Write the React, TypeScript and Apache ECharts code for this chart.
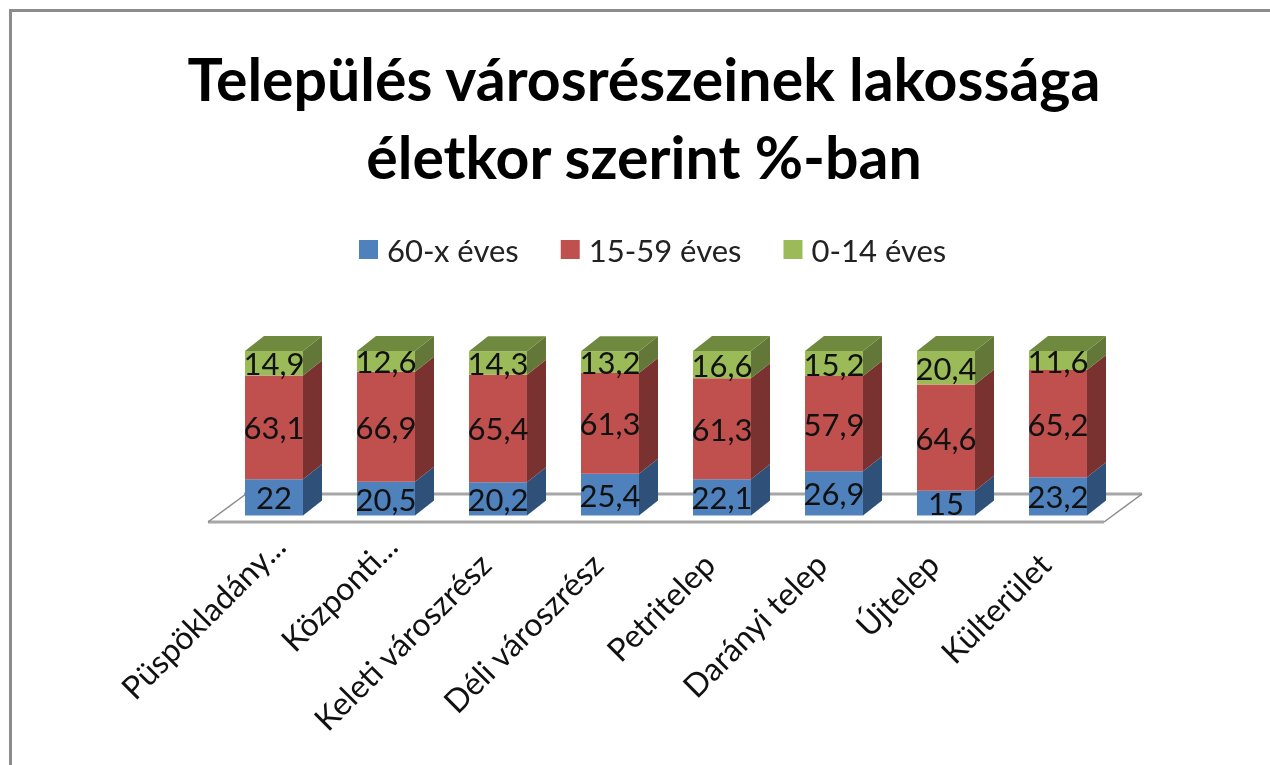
import React, { useEffect, useRef } from "react";
import * as echarts from "echarts";

const categories = ["Püspökladány...", "Központi...", "Keleti városzrész", "Déli városzrész", "Petritelep", "Darányi telep", "Újtelep", "Külterület"];
const labelPadsRight = [-7, -7, 19, 19, 19, 19, 19, 19];
const labelPadsTop = [5, 5, 0, 0, 0, 0, 0, 0];
const older = [22, 20.5, 20.2, 25.4, 22.1, 26.9, 15, 23.2];
const adult = [63.1, 66.9, 65.4, 61.3, 61.3, 57.9, 64.6, 65.2];
const young = [14.9, 12.6, 14.3, 13.2, 16.6, 15.2, 20.4, 11.6];
const seriesNames = ["60-x éves", "15-59 éves", "0-14 éves"];
const FONT = "Lato, Carlito, sans-serif";
const DX = 19;
const DY = 15;

const palette = [
  { front: "#4f81bd", side: "#2f5078", top: "#3f6797" },
  { front: "#c0504d", side: "#7a3230", top: "#99403e" },
  { front: "#9bbb59", side: "#627738", top: "#6f8a3e" },
];

const fmt = (v: number) => String(v).replace(".", ",");

function barRender(colorIdx: number, showTop: boolean) {
  return (_: any, api: any) => {
    const i = api.value(0);
    const base = api.coord([i, api.value(1)]);
    const end = api.coord([i, api.value(2)]);
    const w = api.size([1, 0])[0] * 0.518;
    const x0 = base[0] - w / 2;
    const x1 = base[0] + w / 2;
    const c = palette[colorIdx];
    const children: any[] = [
      { type: "rect", shape: { x: x0, y: end[1], width: w, height: base[1] - end[1] }, style: { fill: c.front } },
      { type: "polygon", shape: { points: [[x1, base[1]], [x1 + DX, base[1] - DY], [x1 + DX, end[1] - DY], [x1, end[1]]] }, style: { fill: c.side } },
    ];
    if (showTop) {
      children.push({ type: "polygon", shape: { points: [[x0, end[1]], [x0 + DX, end[1] - DY], [x1 + DX, end[1] - DY], [x1, end[1]]] }, style: { fill: c.top } });
    }
    return { type: "group", children };
  };
}

function labelRender(_: any, api: any) {
  const i = api.value(0);
  const mid = api.coord([i, (api.value(1) + api.value(2)) / 2]);
  return {
    type: "text",
    x: mid[0],
    y: mid[1],
    style: { text: fmt(api.value(3)), fontSize: 31, fontFamily: FONT, fill: "#111", align: "center", verticalAlign: "middle" },
  };
}

function floorRender(params: any, api: any) {
  const r = params.coordSys;
  const y0 = api.coord([0, 0])[1];
  const xl = r.x - 10;
  const xr = r.x + r.width - 10;
  const yf = y0 + 6.5;
  const yb = y0 - 21.5;
  const s = { stroke: "#a6a6a6", lineWidth: 3 };
  return {
    type: "group",
    children: [
      { type: "polygon", shape: { points: [[xl, yf], [xl + 38, yb], [xr + 38, yb], [xr, yf]] }, style: { fill: "#fff" } },
      { type: "line", shape: { x1: xl + 36, y1: yb, x2: xr + 38, y2: yb }, style: s },
      { type: "line", shape: { x1: xl, y1: yf, x2: xr, y2: yf }, style: s },
      { type: "line", shape: { x1: xl, y1: yf, x2: xl + 38, y2: yb }, style: { stroke: "#8c8c8c", lineWidth: 1.5 } },
      { type: "line", shape: { x1: xr, y1: yf, x2: xr + 38, y2: yb }, style: { stroke: "#8c8c8c", lineWidth: 1.5 } },
    ],
  };
}

const stacks = [older, adult, young];

export default function App() {
  const ref = useRef<HTMLDivElement>(null);
  useEffect(() => {
    const chart = echarts.init(ref.current!, undefined, { renderer: "svg" });
    const ranges = stacks.map((vals, s) =>
      vals.map((v, i) => {
        let b = 0;
        for (let k = 0; k < s; k++) b += stacks[k][i];
        return [i, b, b + v, v];
      })
    );
    chart.setOption({
      animation: false,
      backgroundColor: "#ffffff",
      title: {
        text: "Település városrészeinek lakossága\néletkor szerint %-ban",
        left: 639,
        top: 34,
        textAlign: "center",
        textStyle: { fontFamily: FONT, fontSize: 59, fontWeight: "bold", color: "#000", lineHeight: 78 },
      },
      legend: {
        data: seriesNames,
        top: 229,
        left: 354,
        icon: "rect",
        itemWidth: 19,
        itemHeight: 19,
        itemGap: 42,
        textStyle: { fontFamily: FONT, fontSize: 31, color: "#222", padding: [0, 0, 0, 4] },
      },
      grid: { left: 218, width: 896, top: 351, height: 164.5 },
      xAxis: {
        type: "category",
        data: categories.map((value, i) => ({ value, textStyle: { padding: [labelPadsTop[i], labelPadsRight[i], 0, 0] } })),
        axisLine: { show: false },
        axisTick: { show: false },
        axisLabel: { interval: 0, rotate: 45, fontFamily: FONT, fontSize: 32, color: "#111", margin: 29.5 },
      },
      yAxis: { type: "value", min: 0, max: 100, show: false },
      graphic: [
        { type: "rect", shape: { x: 10.5, y: 10.5, width: 1300, height: 800 }, style: { fill: "none", stroke: "#8c8c8c", lineWidth: 3 }, silent: true, z: 100 },
      ],
      series: [
        { type: "custom", name: "floor", silent: true, renderItem: floorRender, data: [[0]], encode: { x: 0, y: 0 }, z: 1 },
        ...seriesNames.map((name, s) => ({
          type: "custom",
          name,
          renderItem: barRender(s, s === 2),
          data: ranges[s],
          itemStyle: { color: palette[s].front },
          encode: { x: 0, y: [1, 2] },
          z: 2,
        })),
        ...seriesNames.map((name, s) => ({
          type: "custom",
          name: name + " címke",
          renderItem: labelRender,
          data: ranges[s],
          encode: { x: 0, y: [1, 2] },
          z: 3,
        })),
      ],
    });
    return () => chart.dispose();
  }, []);
  return <div ref={ref} style={{ position: "fixed", left: 0, top: 0, width: 1270, height: 765, filter: "blur(0.5px)" }} />;
}
